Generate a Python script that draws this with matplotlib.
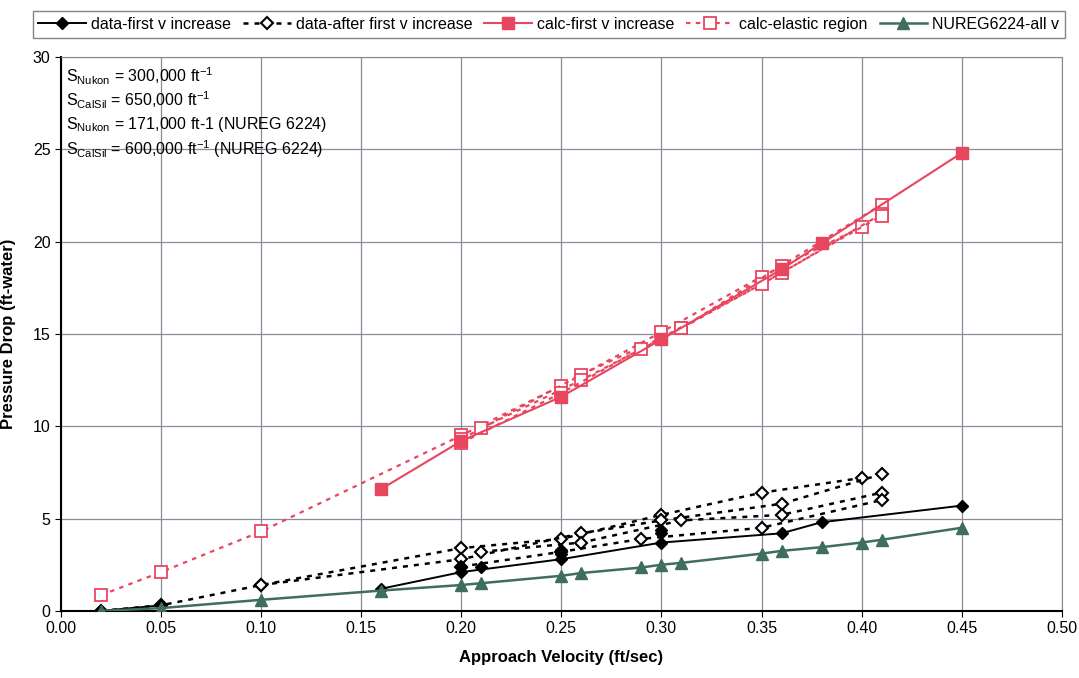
import matplotlib
matplotlib.use('Agg')
import matplotlib.pyplot as plt
from matplotlib.lines import Line2D

plt.rcParams['font.family'] = ['Liberation Sans', 'DejaVu Sans']
plt.rcParams['mathtext.fontset'] = 'custom'
plt.rcParams['mathtext.rm'] = 'Liberation Sans'
plt.rcParams['mathtext.it'] = 'Liberation Sans'

RED = '#e8455f'
GREEN = '#3f6e5c'

# data-first v increase (solid, filled diamonds)
first_v = [0.16, 0.20, 0.25, 0.30, 0.36, 0.38, 0.45]
first_p = [1.2, 2.1, 2.8, 3.7, 4.2, 4.8, 5.7]
first_low_v = [0.02, 0.05]
first_low_p = [0.0, 0.3]
first_pts_v = [0.20, 0.21, 0.25, 0.25, 0.30, 0.30]
first_pts_p = [2.4, 2.4, 3.1, 3.3, 4.2, 4.4]

# data-after first v increase (dotted, open diamonds)
after_a_v = [0.02, 0.05, 0.10, 0.20, 0.25, 0.30, 0.35, 0.40]
after_a_p = [0.0, 0.3, 1.4, 3.4, 3.9, 5.2, 6.4, 7.2]
after_b_v = [0.10, 0.20, 0.26, 0.30, 0.36, 0.41]
after_b_p = [1.4, 2.8, 4.2, 4.9, 5.8, 7.4]
after_c_v = [0.21, 0.26, 0.31, 0.36, 0.41]
after_c_p = [3.2, 3.7, 4.9, 5.2, 6.4]
after_d_v = [0.20, 0.25, 0.29, 0.35, 0.41]
after_d_p = [2.4, 3.2, 3.9, 4.5, 6.0]

# calc-first v increase (solid, filled squares)
calc_v = [0.16, 0.20, 0.25, 0.30, 0.36, 0.38, 0.45]
calc_p = [6.6, 9.2, 11.6, 14.7, 18.5, 19.9, 24.8]

# calc-elastic region (dotted, open squares)
elas_a_v = [0.02, 0.05, 0.10, 0.20, 0.25, 0.30, 0.35, 0.40]
elas_a_p = [0.85, 2.1, 4.3, 9.5, 12.2, 15.1, 18.1, 20.8]
elas_b_v = [0.20, 0.26, 0.31, 0.36, 0.41]
elas_b_p = [9.3, 12.8, 15.3, 18.7, 22.0]
elas_c_v = [0.21, 0.26, 0.31, 0.36, 0.41]
elas_c_p = [9.9, 12.5, 15.3, 18.3, 21.5]
elas_d_v = [0.20, 0.25, 0.29, 0.35, 0.41]
elas_d_p = [9.1, 11.8, 14.2, 17.7, 21.4]

# NUREG6224-all v
nureg_v = [0.02, 0.05, 0.10, 0.16, 0.20, 0.21, 0.25, 0.26, 0.29, 0.30, 0.31,
           0.35, 0.36, 0.38, 0.40, 0.41, 0.45]
nureg_p = [0.0, 0.15, 0.6, 1.1, 1.4, 1.5, 1.9, 2.05, 2.35, 2.5, 2.6,
           3.1, 3.25, 3.45, 3.7, 3.85, 4.5]

fig = plt.figure(figsize=(10.79, 6.78), dpi=100)
ax = fig.add_axes([0.0565, 0.099, 0.9275, 0.817])

dots = (0, (2.0, 2.4))

for v, p in [(elas_a_v, elas_a_p), (elas_b_v, elas_b_p), (elas_c_v, elas_c_p), (elas_d_v, elas_d_p)]:
    ax.plot(v, p, color=RED, ls=dots, lw=1.6, marker='s', ms=8.5, mfc='white',
            mec=RED, mew=1.3, zorder=3)
ax.plot(calc_v, calc_p, color=RED, lw=1.5, marker='s', ms=8.5, mfc=RED, mec=RED, zorder=4)

for v, p in [(after_a_v, after_a_p), (after_b_v, after_b_p), (after_c_v, after_c_p), (after_d_v, after_d_p)]:
    ax.plot(v, p, color='black', ls=dots, lw=1.8, marker='D', ms=6.5, mfc='white',
            mec='black', mew=1.5, zorder=3)
ax.plot(first_v, first_p, color='black', lw=1.4, marker='D', ms=6.5, mfc='black', zorder=4)
ax.plot(first_low_v, first_low_p, color='black', lw=1.4, marker='D', ms=6.5, mfc='black', zorder=4)
ax.plot(first_pts_v, first_pts_p, ls='none', marker='D', ms=6.5, color='black', zorder=4)

ax.plot(nureg_v, nureg_p, color=GREEN, lw=1.8, marker='^', ms=8, mfc=GREEN, mec=GREEN, zorder=5)

ax.set_xlim(0, 0.5)
ax.set_ylim(0, 30)
ax.set_xticks([i * 0.05 for i in range(11)])
ax.set_xticklabels(['%.2f' % (i * 0.05) for i in range(11)])
ax.set_yticks(range(0, 31, 5))
ax.tick_params(labelsize=11.5, direction='out', length=4)
ax.grid(True, color='#8a8a9a', lw=0.9)
ax.set_axisbelow(True)
for s in ['left', 'bottom']:
    ax.spines[s].set_linewidth(1.5)
for s in ['top', 'right']:
    ax.spines[s].set_color('#888888')

ax.set_xlabel('Approach Velocity (ft/sec)', fontsize=12, fontweight='bold', labelpad=10)
ax.set_ylabel('Pressure Drop (ft-water)', fontsize=12, fontweight='bold', labelpad=12)

notes = [r'S$_{\mathrm{Nukon}}$ = 300,000 ft$^{\mathrm{-1}}$',
         r'S$_{\mathrm{CalSil}}$ = 650,000 ft$^{\mathrm{-1}}$',
         r'S$_{\mathrm{Nukon}}$ = 171,000 ft-1 (NUREG 6224)',
         r'S$_{\mathrm{CalSil}}$ = 600,000 ft$^{\mathrm{-1}}$ (NUREG 6224)']
for i, t in enumerate(notes):
    fig.text(0.061, 0.888 - i * 0.0358, t, fontsize=11.5, va='center')

handles = [
    Line2D([], [], color='black', lw=1.4, marker='D', ms=6.5, mfc='black'),
    Line2D([], [], color='black', ls=dots, lw=1.8, marker='D', ms=6.5, mfc='white', mew=1.5),
    Line2D([], [], color=RED, lw=1.5, marker='s', ms=8.5, mfc=RED),
    Line2D([], [], color=RED, ls=dots, lw=1.6, marker='s', ms=8.5, mfc='white', mew=1.3),
    Line2D([], [], color=GREEN, lw=1.8, marker='^', ms=8, mfc=GREEN),
]
labels = ['data-first v increase', 'data-after first v increase', 'calc-first v increase',
          'calc-elastic region', 'NUREG6224-all v']
leg = fig.legend(handles, labels, loc='upper left', bbox_to_anchor=(0.023, 0.995), ncol=5,
                 fontsize=11.5, frameon=True, fancybox=False, edgecolor='#666666',
                 handlelength=3.0, columnspacing=0.75, handletextpad=0.3, borderpad=0.35)
leg.get_frame().set_linewidth(1.0)

fig.savefig('out.png', dpi=100)
